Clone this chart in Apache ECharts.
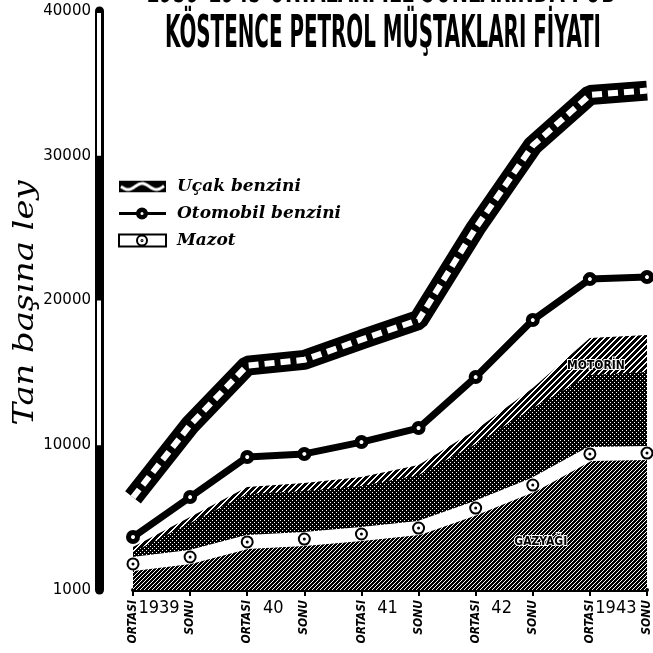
<!DOCTYPE html>
<html><head><meta charset="utf-8">
<script src="https://cdn.jsdelivr.net/npm/echarts@6/dist/echarts.min.js"></script>
<style>html,body{margin:0;padding:0;background:#fff}#c{width:653px;height:653px}</style>
</head><body><div id="c"></div>
<script>
// ---- data ----
const periods = ['1939 ORTASI','1939 SONU','1940 ORTASI','1940 SONU','1941 ORTASI','1941 SONU','1942 ORTASI','1942 SONU','1943 ORTASI','1943 SONU'];
const periodLabels = ['ORTASI','SONU','ORTASI','SONU','ORTASI','SONU','ORTASI','SONU','ORTASI','SONU'];
const yearLabels = ['1939','','40','','41','','42','','1943',''];
const ucakBenzini = [6400,11400,15500,15900,17300,18650,25000,30700,34200,34500];
const otomobilBenzini = [3660,6420,9190,9400,10220,11190,14710,18650,21480,21620];
const mazot = [1800,2280,3320,3520,3870,4280,5660,7250,9400,9460];
const ustBolge = [2970,5040,7120,7390,7810,8640,11050,13950,17410,17620];
const ortaBolge = [2620,4630,6640,6840,7190,7950,10080,12570,14850,15060];
const bolgeEtiketleri = [{text:'MOTORİN',at:8,value:15500},{text:'GAZYAĞI',at:7,value:3300}];
const yTickValues = [0,10000,20000,30000,40000];
const yTickLabels = ['1000','10000','20000','30000','40000'];
const titleLines = ['1939-1943 ORTALARI İLE SONLARINDA FOB','KÖSTENCE PETROL MÜŞTAKLARI FİYATI'];
const yName = 'Tan başına ley';

// ---- patterns ----
function pat(size, fn){const c=document.createElement('canvas');c.width=c.height=size;const g=c.getContext('2d');fn(g,size);return {image:c,repeat:'repeat'};}
const pTop = pat(6,(g,s)=>{g.fillStyle='#000';g.fillRect(0,0,s,s);g.fillStyle='#fff';for(let i=0;i<s;i++){g.fillRect(i,(s-1-i),1,1);g.fillRect(i,(s-i)%s,1,1);}});
const pMid = pat(4,(g,s)=>{g.fillStyle='#000';g.fillRect(0,0,s,s);g.fillStyle='#fff';g.fillRect(0,0,1,1);g.fillRect(2,2,1,1);});
const pLow = pat(4,(g,s)=>{g.fillStyle='#000';g.fillRect(0,0,s,s);g.fillStyle='#fff';for(let x=0;x<s;x++)for(let y=0;y<s;y++){if((x+y)%4===1||((x-y+8)%4===3&&x%2===0))g.fillRect(x,y,1,1);}});
const waveIcon = (()=>{const c=document.createElement('canvas');c.width=47;c.height=12;const g=c.getContext('2d');g.fillStyle='#000';g.fillRect(0,0,47,12);g.strokeStyle='#fff';g.lineWidth=3;g.beginPath();for(let x=2;x<=45;x++){const y=6+3*Math.sin((x-2)/4.5);x===2?g.moveTo(x,y):g.lineTo(x,y);}g.stroke();return {image:c,repeat:'no-repeat'};})();

const chart = echarts.init(document.getElementById('c'));
const serifFont = '"DejaVu Serif"';
const condFont = '"DejaVu Sans Condensed"';
const areaBase = {type:'line',symbol:'none',silent:true,lineStyle:{width:0},xAxisIndex:0,yAxisIndex:0};
const otoIcon = 'path://M0,4.5 H17.2 V7.5 H0 Z M28.8,4.5 H47 V7.5 H28.8 Z M17,6 A6,6 0 1,1 29,6 A6,6 0 1,1 17,6 Z M21.5,6 A1.5,1.5 0 1,0 24.5,6 A1.5,1.5 0 1,0 21.5,6 Z';
const areaLabelStyle = {show:true,position:'inside',color:'#000',fontFamily:condFont,fontWeight:'bold',fontSize:12,textBorderColor:'#fff',textBorderWidth:2};
chart.setOption({
  animation:false,
  backgroundColor:'#fff',
  grid:{left:133,right:1,top:11,bottom:63},
  legend:{
    orient:'vertical',left:113,top:173,itemGap:10,itemWidth:47,itemHeight:12,
    textStyle:{fontFamily:serifFont,fontStyle:'italic',fontWeight:'bold',fontSize:17,color:'#000',padding:[0,0,0,6]},
    data:[
      {name:'Uçak benzini',icon:'rect',itemStyle:{color:waveIcon}},
      {name:'Otomobil benzini',icon:otoIcon,itemStyle:{color:'#000',borderWidth:0}},
      {name:'Mazot',icon:'path://M0,0 H47 V12 H0 Z M18,6 A5,5 0 1,0 28,6 A5,5 0 1,0 18,6 Z M22.5,6 A0.5,0.5 0 1,0 23.5,6 A0.5,0.5 0 1,0 22.5,6 Z',itemStyle:{color:'#fff',borderColor:'#000',borderWidth:2}}
    ]
  },
  xAxis:[
    {type:'category',data:periods,boundaryGap:false,
     axisLine:{lineStyle:{color:'#000',width:4}},
     axisTick:{show:true,length:6,lineStyle:{color:'#000',width:2}},
     axisLabel:{interval:0,rotate:90,margin:10,color:'#000',fontFamily:condFont,fontWeight:'bold',fontStyle:'italic',fontSize:12,
       formatter:(v,i)=>periodLabels[i]}},
    {type:'category',data:periods,boundaryGap:false,position:'bottom',
     axisLine:{show:false},axisTick:{show:false},
     axisLabel:{interval:0,margin:9,color:'#000',fontFamily:condFont,fontSize:18,padding:[0,0,0,52],
       formatter:(v,i)=>yearLabels[i]}}
  ],
  yAxis:{type:'value',min:0,max:40000,interval:10000,offset:34,
    axisLine:{show:true,lineStyle:{color:'#000',width:9}},axisTick:{show:false},splitLine:{show:false},
    axisLabel:{margin:8,color:'#000',fontFamily:'"DejaVu Sans"',fontSize:15,formatter:v=>yTickLabels[yTickValues.indexOf(v)]}},
  series:[
    Object.assign({},areaBase,{name:'ust',data:ustBolge,areaStyle:{color:pTop,opacity:1},
      markPoint:{symbol:'circle',symbolSize:0,silent:true,label:areaLabelStyle,
        data:[{coord:[bolgeEtiketleri[0].at,bolgeEtiketleri[0].value],label:Object.assign({},areaLabelStyle,{formatter:bolgeEtiketleri[0].text,offset:[6,0]})}]}}),
    Object.assign({},areaBase,{name:'orta',data:ortaBolge,areaStyle:{color:pMid,opacity:1}}),
    Object.assign({},areaBase,{name:'alt',data:mazot,areaStyle:{color:pLow,opacity:1},
      markPoint:{symbol:'circle',symbolSize:0,silent:true,label:areaLabelStyle,
        data:[{coord:[bolgeEtiketleri[1].at,bolgeEtiketleri[1].value],label:Object.assign({},areaLabelStyle,{formatter:bolgeEtiketleri[1].text,offset:[8,0]})}]}}),
    {type:'line',name:'Mazot',data:mazot,symbol:'circle',symbolSize:11,showAllSymbol:true,
      lineStyle:{color:'#fff',width:14},itemStyle:{color:'#fff',borderColor:'#000',borderWidth:2}},
    {type:'line',name:'mazotNokta',data:mazot,symbol:'circle',symbolSize:3,showAllSymbol:true,silent:true,
      lineStyle:{width:0},itemStyle:{color:'#000'}},
    {type:'line',name:'Otomobil benzini',data:otomobilBenzini,symbol:'circle',symbolSize:9,showAllSymbol:true,
      lineStyle:{color:'#000',width:7},itemStyle:{color:'#fff',borderColor:'#000',borderWidth:5}},
    {type:'line',name:'Uçak benzini',data:ucakBenzini,symbol:'none',
      lineStyle:{color:'#000',width:20},itemStyle:{color:'#000'}},
    {type:'line',name:'ucakDalga',data:ucakBenzini,symbol:'none',silent:true,
      lineStyle:{color:'#fff',width:6,type:[10,6]}}
  ]
});

// title, axis name, y-axis segments
function measure(text,font){const c=document.createElement('canvas').getContext('2d');c.font=font;return c.measureText(text).width;}
const tf = 'bold 45px "DejaVu Sans Condensed"';
const s1 = 470/measure(titleLines[0],tf), s2 = 436/measure(titleLines[1],tf);
const nf = 'italic 27px "DejaVu Serif"';
const sn = 245/measure(yName,nf);
const axX = 133-34;
const yp = v=>chart.convertToPixel({yAxisIndex:0},v);
chart.setOption({graphic:[
  {type:'text',x:381,y:-10,scaleX:s1,style:{text:titleLines[0],font:tf,fill:'#000',align:'center',verticalAlign:'middle'}},
  {type:'text',x:383,y:35,scaleX:s2,style:{text:titleLines[1],font:tf,fill:'#000',align:'center',verticalAlign:'middle'}},
  {type:'text',x:26,y:303,rotation:Math.PI/2,scaleX:sn,style:{text:yName,font:nf,fill:'#000',align:'center',verticalAlign:'middle'}},
  {type:'rect',z:100,shape:{x:axX-2,y:yp(40000)+2,width:4,height:yp(30000)-yp(40000)-2},style:{fill:'#fff'}},
  {type:'rect',z:100,shape:{x:axX-2,y:yp(20000),width:4,height:yp(10000)-yp(20000)},style:{fill:'#fff'}}
]});
</script></body></html>
